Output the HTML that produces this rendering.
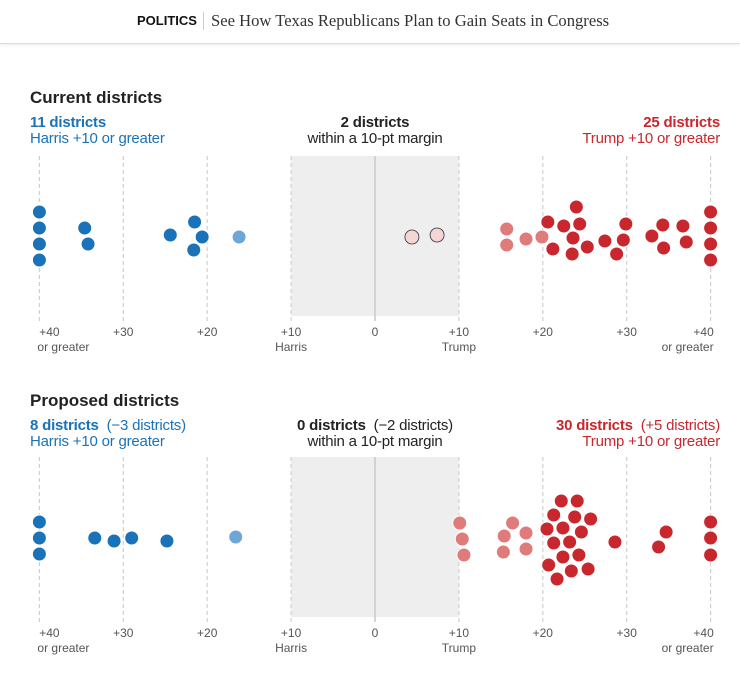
<!DOCTYPE html>
<html><head><meta charset="utf-8">
<style>
body{margin:0;width:740px;height:682px;background:#fff;font-family:"Liberation Sans",sans-serif;overflow:hidden;position:relative}
.hdr{position:absolute;left:0;top:0;width:740px;height:43px;border-bottom:1px solid #ddd;box-shadow:0 1px 3px rgba(0,0,0,.08)}
.hdr .k{position:absolute;left:137px;top:13px;font-weight:bold;font-size:13px;color:#121212}
.hdr .s{position:absolute;left:203px;top:12px;width:1px;height:18px;background:#ccc}
.hdr .t{position:absolute;left:211px;top:11px;font-family:"Liberation Serif",serif;font-size:16.6px;color:#333}
.ttl{position:absolute;left:30px;font-weight:bold;font-size:17px;color:#222}
.lab{position:absolute;font-size:15px;line-height:16px;letter-spacing:-0.2px}
</style></head><body>
<div class="hdr">
<span class="k">POLITICS</span><span class="s"></span>
<span class="t">See How Texas Republicans Plan to Gain Seats in Congress</span>
</div>
<div class="ttl" style="top:88px">Current districts</div>
<div class="lab" style="left:30px;top:115px;color:#1a72b8"><b>11 districts</b><br>Harris +10 or greater</div>
<div class="lab" style="left:275px;width:200px;text-align:center;top:115px;color:#222"><b>2 districts</b><br>within a 10-pt margin</div>
<div class="lab" style="right:20px;text-align:right;top:115px;color:#c8272d"><b>25 districts</b><br>Trump +10 or greater</div>
<div class="ttl" style="top:391px">Proposed districts</div>
<div class="lab" style="left:30px;top:418px;color:#1a72b8"><b>8 districts</b>&nbsp; (−3 districts)<br>Harris +10 or greater</div>
<div class="lab" style="left:235px;width:280px;text-align:center;top:418px;color:#222"><b>0 districts</b>&nbsp; (−2 districts)<br>within a 10-pt margin</div>
<div class="lab" style="right:20px;text-align:right;top:418px;color:#c8272d"><b>30 districts</b>&nbsp; (+5 districts)<br>Trump +10 or greater</div>
<svg id="c" width="740" height="682" style="position:absolute;left:0;top:0"></svg>
<script>
// margins: negative = Harris, positive = Trump; offsets = vertical beeswarm offset (px)
const ticks=[-40,-30,-20,-10,0,10,20,30,40];
const tickLabels=["+40","+30","+20","+10","0","+10","+20","+30","+40"];
const tickSub=["or greater","","","Harris","","Trump","","","or greater"];
const curMargins=[-40,-40,-40,-40,-34.6,-34.2,-24.4,-21.5,-20.6,-21.6,-16.2,4.4,7.4,15.7,15.7,18.0,19.9,20.6,21.2,22.5,24.0,24.4,23.6,23.5,25.3,27.4,29.9,29.6,28.8,33.0,34.3,34.4,36.7,37.1,40,40,40,40];
const curOffsets=[-25,-9,7,23,-9,7,-2,-15,0,13,0,0,-2,-8,8,2,0,-15,12,-11,-30,-13,1,17,10,4,-13,3,17,-1,-12,11,-11,5,-25,-9,7,23];
const propMargins=[-40,-40,-40,-33.4,-31.1,-29.0,-24.8,-16.6,10.1,10.4,10.6,16.4,15.4,18.0,15.3,18.0,22.2,24.1,21.3,23.8,25.7,20.5,22.4,24.6,21.3,23.2,22.4,24.3,20.7,25.4,23.4,21.7,28.6,34.7,33.8,40,40,40];
const propOffsets=[-16,0,16,0,3,0,3,-1,-15,1,17,-15,-2,-5,14,11,-37,-37,-23,-21,-19,-9,-10,-6,5,4,19,17,27,31,33,41,4,-6,9,-16,0,17];
const svg=document.getElementById('c');const NS='http://www.w3.org/2000/svg';
const x=v=>375+v*8.39;
function mk(t,a){const e=document.createElementNS(NS,t);for(const k in a)e.setAttribute(k,a[k]);svg.appendChild(e);return e;}
function panel(top,margins,offsets,name){
  const mid=top+81;
  const r=mk('rect',{x:x(-10),y:top,width:x(10)-x(-10),height:160,fill:'#eeeeee'});
  
  
  ticks.forEach((t,i)=>{
    const l=mk('line',{x1:x(t),x2:x(t),y1:top,y2:top+165,stroke:t===0?'#c8c8c8':'#d0d0d0','stroke-width':t===0?1.5:1.2,'stroke-dasharray':t===0?'':'4,3'});
    
    
    const anchor=i===0?'start':(i===ticks.length-1?'end':'middle');
    const dx=i===0?-2:(i===ticks.length-1?3:0);
    const tx=mk('text',{x:x(t)+(i===0?0:(i===ticks.length-1?-3:0)),y:top+180,'text-anchor':'middle','font-size':12,fill:'#555'});tx.textContent=tickLabels[i];
    if(i===0)tx.setAttribute('x',x(t)+10);
    if(i===ticks.length-1)tx.setAttribute('x',x(t)-7);
    
    
    if(tickSub[i]){const s=mk('text',{x:x(t)+dx,y:top+195,'text-anchor':anchor,'font-size':12,fill:'#555'});s.textContent=tickSub[i];
    
    }
  });
  margins.forEach((m,i)=>{
    let fill,stroke='#fff';
    if(m<=-20)fill='#1a72b8';else if(m<-10)fill='#6fa6d8';
    else if(m<10){fill='#f5d5d5';stroke='#333';}
    else if(m<20)fill='#e07b7b';else fill='#c8272d';
    const c=mk('circle',{cx:x(m),cy:mid+offsets[i],r:7,fill:fill,stroke:stroke,'stroke-width':stroke==='#fff'?1:0.8});
    
    
  });
}
panel(156,curMargins,curOffsets,'current');
panel(457,propMargins,propOffsets,'proposed');
</script>
</body></html>
